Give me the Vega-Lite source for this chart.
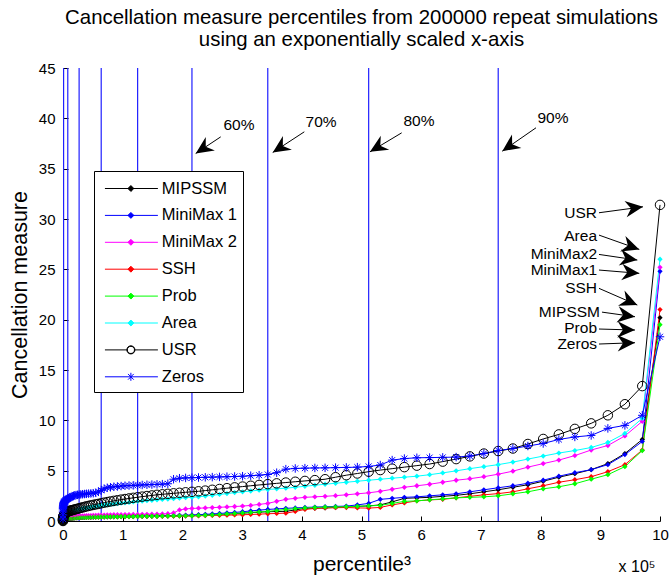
{
 "$schema": "https://vega.github.io/schema/vega-lite/v6.json",
 "width": 597, "height": 453,
 "autosize": {"type": "none"},
 "padding": {"left": 63, "top": 68, "right": 9, "bottom": 55},
 "background": "white",
 "config": {
  "view": {"stroke": null},
  "font": "Liberation Sans",
  "axis": {"domainColor": "black", "tickColor": "black", "labelColor": "black", "titleColor": "black", "labelFont": "Liberation Sans", "titleFont": "Liberation Sans", "titleFontWeight": "normal", "labelFontSize": 15, "grid": false, "tickSize": -5, "domainWidth": 1, "tickWidth": 1}
 },
 "title": {"text": ["Cancellation measure percentiles from 200000 repeat simulations", "using an exponentially scaled x-axis"], "fontSize": 20.4, "fontWeight": "normal", "font": "Liberation Sans", "color": "black", "anchor": "middle", "lineHeight": 22, "offset": 11},
 "datasets": {
  "curves": [
   {"x":0,"MIPSSM":0,"MiniMax 1":0,"MiniMax 2":0,"SSH":0,"Prob":0,"Area":0,"USR":0,"Zeros":0.2},
   {"x":1,"MIPSSM":0.02,"MiniMax 1":0.02,"MiniMax 2":0.02,"SSH":0.02,"Prob":0.02,"Area":0.04,"USR":0.05,"Zeros":0.6},
   {"x":8,"MIPSSM":0.04,"MiniMax 1":0.04,"MiniMax 2":0.04,"SSH":0.04,"Prob":0.04,"Area":0.08,"USR":0.1,"Zeros":0.9},
   {"x":27,"MIPSSM":0.06,"MiniMax 1":0.06,"MiniMax 2":0.06,"SSH":0.06,"Prob":0.06,"Area":0.12,"USR":0.15,"Zeros":1.1},
   {"x":64,"MIPSSM":0.08,"MiniMax 1":0.08,"MiniMax 2":0.08,"SSH":0.08,"Prob":0.08,"Area":0.16,"USR":0.2,"Zeros":1.25},
   {"x":125,"MIPSSM":0.1,"MiniMax 1":0.1,"MiniMax 2":0.1,"SSH":0.1,"Prob":0.1,"Area":0.2,"USR":0.25,"Zeros":1.35},
   {"x":216,"MIPSSM":0.11,"MiniMax 1":0.11,"MiniMax 2":0.12,"SSH":0.11,"Prob":0.11,"Area":0.24,"USR":0.3,"Zeros":1.45},
   {"x":343,"MIPSSM":0.12,"MiniMax 1":0.12,"MiniMax 2":0.14,"SSH":0.12,"Prob":0.12,"Area":0.28,"USR":0.35,"Zeros":1.55},
   {"x":512,"MIPSSM":0.13,"MiniMax 1":0.13,"MiniMax 2":0.16,"SSH":0.13,"Prob":0.13,"Area":0.32,"USR":0.4,"Zeros":1.62},
   {"x":729,"MIPSSM":0.14,"MiniMax 1":0.14,"MiniMax 2":0.18,"SSH":0.14,"Prob":0.14,"Area":0.36,"USR":0.45,"Zeros":1.7},
   {"x":1000,"MIPSSM":0.15,"MiniMax 1":0.15,"MiniMax 2":0.2,"SSH":0.15,"Prob":0.15,"Area":0.4,"USR":0.5,"Zeros":1.76},
   {"x":1331,"MIPSSM":0.16,"MiniMax 1":0.16,"MiniMax 2":0.21,"SSH":0.16,"Prob":0.16,"Area":0.44,"USR":0.55,"Zeros":1.82},
   {"x":1728,"MIPSSM":0.17,"MiniMax 1":0.17,"MiniMax 2":0.22,"SSH":0.17,"Prob":0.17,"Area":0.48,"USR":0.6,"Zeros":1.87},
   {"x":2197,"MIPSSM":0.18,"MiniMax 1":0.18,"MiniMax 2":0.24,"SSH":0.18,"Prob":0.18,"Area":0.52,"USR":0.65,"Zeros":1.92},
   {"x":2744,"MIPSSM":0.19,"MiniMax 1":0.19,"MiniMax 2":0.25,"SSH":0.19,"Prob":0.19,"Area":0.56,"USR":0.7,"Zeros":1.96},
   {"x":3375,"MIPSSM":0.2,"MiniMax 1":0.2,"MiniMax 2":0.27,"SSH":0.2,"Prob":0.2,"Area":0.6,"USR":0.74,"Zeros":2.0},
   {"x":4096,"MIPSSM":0.21,"MiniMax 1":0.21,"MiniMax 2":0.28,"SSH":0.21,"Prob":0.21,"Area":0.64,"USR":0.78,"Zeros":2.04},
   {"x":4913,"MIPSSM":0.22,"MiniMax 1":0.22,"MiniMax 2":0.3,"SSH":0.22,"Prob":0.22,"Area":0.68,"USR":0.82,"Zeros":2.08},
   {"x":5832,"MIPSSM":0.23,"MiniMax 1":0.23,"MiniMax 2":0.31,"SSH":0.23,"Prob":0.23,"Area":0.72,"USR":0.86,"Zeros":2.12},
   {"x":6859,"MIPSSM":0.24,"MiniMax 1":0.24,"MiniMax 2":0.33,"SSH":0.24,"Prob":0.24,"Area":0.76,"USR":0.9,"Zeros":2.16},
   {"x":8000,"MIPSSM":0.25,"MiniMax 1":0.25,"MiniMax 2":0.34,"SSH":0.25,"Prob":0.25,"Area":0.8,"USR":0.93,"Zeros":2.2},
   {"x":9261,"MIPSSM":0.26,"MiniMax 1":0.26,"MiniMax 2":0.36,"SSH":0.26,"Prob":0.26,"Area":0.83,"USR":0.96,"Zeros":2.25},
   {"x":10648,"MIPSSM":0.27,"MiniMax 1":0.27,"MiniMax 2":0.37,"SSH":0.27,"Prob":0.27,"Area":0.86,"USR":0.99,"Zeros":2.3},
   {"x":12167,"MIPSSM":0.28,"MiniMax 1":0.28,"MiniMax 2":0.39,"SSH":0.28,"Prob":0.28,"Area":0.89,"USR":1.02,"Zeros":2.35},
   {"x":13824,"MIPSSM":0.29,"MiniMax 1":0.29,"MiniMax 2":0.4,"SSH":0.29,"Prob":0.29,"Area":0.92,"USR":1.05,"Zeros":2.4},
   {"x":15625,"MIPSSM":0.3,"MiniMax 1":0.3,"MiniMax 2":0.41,"SSH":0.3,"Prob":0.3,"Area":0.95,"USR":1.08,"Zeros":2.45},
   {"x":17576,"MIPSSM":0.31,"MiniMax 1":0.31,"MiniMax 2":0.43,"SSH":0.31,"Prob":0.31,"Area":0.98,"USR":1.11,"Zeros":2.5},
   {"x":19683,"MIPSSM":0.32,"MiniMax 1":0.32,"MiniMax 2":0.44,"SSH":0.32,"Prob":0.31,"Area":1.01,"USR":1.14,"Zeros":2.55},
   {"x":21952,"MIPSSM":0.33,"MiniMax 1":0.33,"MiniMax 2":0.45,"SSH":0.32,"Prob":0.32,"Area":1.05,"USR":1.18,"Zeros":2.58},
   {"x":24389,"MIPSSM":0.34,"MiniMax 1":0.33,"MiniMax 2":0.46,"SSH":0.33,"Prob":0.33,"Area":1.09,"USR":1.22,"Zeros":2.6},
   {"x":27000,"MIPSSM":0.35,"MiniMax 1":0.34,"MiniMax 2":0.48,"SSH":0.34,"Prob":0.34,"Area":1.13,"USR":1.26,"Zeros":2.62},
   {"x":29791,"MIPSSM":0.36,"MiniMax 1":0.35,"MiniMax 2":0.49,"SSH":0.35,"Prob":0.35,"Area":1.17,"USR":1.3,"Zeros":2.64},
   {"x":32768,"MIPSSM":0.36,"MiniMax 1":0.36,"MiniMax 2":0.5,"SSH":0.35,"Prob":0.35,"Area":1.21,"USR":1.35,"Zeros":2.66},
   {"x":35937,"MIPSSM":0.37,"MiniMax 1":0.36,"MiniMax 2":0.51,"SSH":0.36,"Prob":0.36,"Area":1.25,"USR":1.4,"Zeros":2.68},
   {"x":39304,"MIPSSM":0.38,"MiniMax 1":0.37,"MiniMax 2":0.52,"SSH":0.37,"Prob":0.37,"Area":1.29,"USR":1.45,"Zeros":2.7},
   {"x":42875,"MIPSSM":0.38,"MiniMax 1":0.38,"MiniMax 2":0.53,"SSH":0.37,"Prob":0.37,"Area":1.33,"USR":1.5,"Zeros":2.72},
   {"x":46656,"MIPSSM":0.39,"MiniMax 1":0.38,"MiniMax 2":0.54,"SSH":0.38,"Prob":0.38,"Area":1.37,"USR":1.55,"Zeros":2.74},
   {"x":50653,"MIPSSM":0.4,"MiniMax 1":0.39,"MiniMax 2":0.55,"SSH":0.38,"Prob":0.38,"Area":1.41,"USR":1.6,"Zeros":2.76},
   {"x":54872,"MIPSSM":0.4,"MiniMax 1":0.4,"MiniMax 2":0.56,"SSH":0.39,"Prob":0.39,"Area":1.45,"USR":1.65,"Zeros":2.8},
   {"x":59319,"MIPSSM":0.41,"MiniMax 1":0.4,"MiniMax 2":0.57,"SSH":0.39,"Prob":0.39,"Area":1.49,"USR":1.7,"Zeros":2.9},
   {"x":64000,"MIPSSM":0.42,"MiniMax 1":0.41,"MiniMax 2":0.58,"SSH":0.4,"Prob":0.4,"Area":1.53,"USR":1.76,"Zeros":3.05},
   {"x":68921,"MIPSSM":0.42,"MiniMax 1":0.42,"MiniMax 2":0.59,"SSH":0.4,"Prob":0.4,"Area":1.57,"USR":1.82,"Zeros":3.2},
   {"x":74088,"MIPSSM":0.43,"MiniMax 1":0.42,"MiniMax 2":0.6,"SSH":0.41,"Prob":0.41,"Area":1.61,"USR":1.88,"Zeros":3.3},
   {"x":79507,"MIPSSM":0.43,"MiniMax 1":0.43,"MiniMax 2":0.61,"SSH":0.41,"Prob":0.41,"Area":1.65,"USR":1.94,"Zeros":3.35},
   {"x":85184,"MIPSSM":0.44,"MiniMax 1":0.43,"MiniMax 2":0.62,"SSH":0.42,"Prob":0.42,"Area":1.69,"USR":2.0,"Zeros":3.4},
   {"x":91125,"MIPSSM":0.44,"MiniMax 1":0.44,"MiniMax 2":0.63,"SSH":0.42,"Prob":0.42,"Area":1.73,"USR":2.06,"Zeros":3.43},
   {"x":97336,"MIPSSM":0.45,"MiniMax 1":0.44,"MiniMax 2":0.63,"SSH":0.43,"Prob":0.43,"Area":1.77,"USR":2.12,"Zeros":3.47},
   {"x":103823,"MIPSSM":0.45,"MiniMax 1":0.45,"MiniMax 2":0.64,"SSH":0.43,"Prob":0.43,"Area":1.81,"USR":2.18,"Zeros":3.5},
   {"x":110592,"MIPSSM":0.46,"MiniMax 1":0.46,"MiniMax 2":0.64,"SSH":0.44,"Prob":0.44,"Area":1.85,"USR":2.24,"Zeros":3.52},
   {"x":117649,"MIPSSM":0.46,"MiniMax 1":0.46,"MiniMax 2":0.65,"SSH":0.44,"Prob":0.44,"Area":1.89,"USR":2.3,"Zeros":3.54},
   {"x":125000,"MIPSSM":0.47,"MiniMax 1":0.47,"MiniMax 2":0.65,"SSH":0.45,"Prob":0.45,"Area":1.95,"USR":2.36,"Zeros":3.56},
   {"x":132651,"MIPSSM":0.48,"MiniMax 1":0.48,"MiniMax 2":0.66,"SSH":0.45,"Prob":0.46,"Area":1.98,"USR":2.42,"Zeros":3.58},
   {"x":140608,"MIPSSM":0.48,"MiniMax 1":0.49,"MiniMax 2":0.66,"SSH":0.46,"Prob":0.46,"Area":2.02,"USR":2.48,"Zeros":3.6},
   {"x":148877,"MIPSSM":0.49,"MiniMax 1":0.5,"MiniMax 2":0.67,"SSH":0.46,"Prob":0.47,"Area":2.06,"USR":2.54,"Zeros":3.62},
   {"x":157464,"MIPSSM":0.49,"MiniMax 1":0.5,"MiniMax 2":0.68,"SSH":0.47,"Prob":0.47,"Area":2.1,"USR":2.6,"Zeros":3.64},
   {"x":166375,"MIPSSM":0.5,"MiniMax 1":0.51,"MiniMax 2":0.7,"SSH":0.47,"Prob":0.48,"Area":2.14,"USR":2.65,"Zeros":3.66},
   {"x":175616,"MIPSSM":0.51,"MiniMax 1":0.52,"MiniMax 2":0.72,"SSH":0.48,"Prob":0.49,"Area":2.18,"USR":2.7,"Zeros":3.7},
   {"x":185193,"MIPSSM":0.52,"MiniMax 1":0.54,"MiniMax 2":0.8,"SSH":0.48,"Prob":0.5,"Area":2.22,"USR":2.75,"Zeros":4.15},
   {"x":195112,"MIPSSM":0.53,"MiniMax 1":0.56,"MiniMax 2":1.1,"SSH":0.49,"Prob":0.5,"Area":2.27,"USR":2.8,"Zeros":4.25},
   {"x":205379,"MIPSSM":0.54,"MiniMax 1":0.58,"MiniMax 2":1.2,"SSH":0.49,"Prob":0.51,"Area":2.32,"USR":2.85,"Zeros":4.28},
   {"x":216000,"MIPSSM":0.55,"MiniMax 1":0.6,"MiniMax 2":1.25,"SSH":0.5,"Prob":0.52,"Area":2.36,"USR":2.9,"Zeros":4.3},
   {"x":226981,"MIPSSM":0.57,"MiniMax 1":0.63,"MiniMax 2":1.27,"SSH":0.52,"Prob":0.55,"Area":2.4,"USR":2.95,"Zeros":4.32},
   {"x":238328,"MIPSSM":0.59,"MiniMax 1":0.66,"MiniMax 2":1.3,"SSH":0.54,"Prob":0.57,"Area":2.48,"USR":3.02,"Zeros":4.34},
   {"x":250047,"MIPSSM":0.62,"MiniMax 1":0.7,"MiniMax 2":1.33,"SSH":0.55,"Prob":0.6,"Area":2.56,"USR":3.1,"Zeros":4.36},
   {"x":262144,"MIPSSM":0.65,"MiniMax 1":0.75,"MiniMax 2":1.36,"SSH":0.57,"Prob":0.65,"Area":2.64,"USR":3.18,"Zeros":4.38},
   {"x":274625,"MIPSSM":0.68,"MiniMax 1":0.8,"MiniMax 2":1.4,"SSH":0.58,"Prob":0.7,"Area":2.72,"USR":3.26,"Zeros":4.4},
   {"x":287496,"MIPSSM":0.73,"MiniMax 1":0.85,"MiniMax 2":1.44,"SSH":0.6,"Prob":0.75,"Area":2.82,"USR":3.34,"Zeros":4.42},
   {"x":300763,"MIPSSM":0.78,"MiniMax 1":0.92,"MiniMax 2":1.48,"SSH":0.62,"Prob":0.8,"Area":2.9,"USR":3.42,"Zeros":4.45},
   {"x":314432,"MIPSSM":0.83,"MiniMax 1":1.0,"MiniMax 2":1.55,"SSH":0.65,"Prob":0.85,"Area":2.98,"USR":3.5,"Zeros":4.5},
   {"x":328509,"MIPSSM":0.88,"MiniMax 1":1.08,"MiniMax 2":1.65,"SSH":0.68,"Prob":0.9,"Area":3.06,"USR":3.58,"Zeros":4.55},
   {"x":343000,"MIPSSM":0.92,"MiniMax 1":1.15,"MiniMax 2":1.75,"SSH":0.72,"Prob":0.95,"Area":3.13,"USR":3.66,"Zeros":4.62},
   {"x":357911,"MIPSSM":0.94,"MiniMax 1":1.2,"MiniMax 2":1.95,"SSH":0.75,"Prob":1.05,"Area":3.2,"USR":3.74,"Zeros":4.8},
   {"x":373248,"MIPSSM":0.96,"MiniMax 1":1.26,"MiniMax 2":2.15,"SSH":0.78,"Prob":1.15,"Area":3.26,"USR":3.82,"Zeros":5.15},
   {"x":389017,"MIPSSM":1.1,"MiniMax 1":1.3,"MiniMax 2":2.25,"SSH":0.95,"Prob":1.22,"Area":3.35,"USR":3.9,"Zeros":5.22},
   {"x":405224,"MIPSSM":1.26,"MiniMax 1":1.35,"MiniMax 2":2.35,"SSH":1.15,"Prob":1.3,"Area":3.45,"USR":3.98,"Zeros":5.25},
   {"x":421875,"MIPSSM":1.28,"MiniMax 1":1.38,"MiniMax 2":2.4,"SSH":1.25,"Prob":1.34,"Area":3.55,"USR":4.06,"Zeros":5.27},
   {"x":438976,"MIPSSM":1.3,"MiniMax 1":1.42,"MiniMax 2":2.45,"SSH":1.3,"Prob":1.38,"Area":3.65,"USR":4.15,"Zeros":5.28},
   {"x":456533,"MIPSSM":1.35,"MiniMax 1":1.45,"MiniMax 2":2.52,"SSH":1.32,"Prob":1.4,"Area":3.75,"USR":4.35,"Zeros":5.3},
   {"x":474552,"MIPSSM":1.4,"MiniMax 1":1.48,"MiniMax 2":2.6,"SSH":1.34,"Prob":1.42,"Area":3.85,"USR":4.55,"Zeros":5.32},
   {"x":493039,"MIPSSM":1.45,"MiniMax 1":1.6,"MiniMax 2":2.7,"SSH":1.3,"Prob":1.46,"Area":3.95,"USR":4.72,"Zeros":5.35},
   {"x":512000,"MIPSSM":1.5,"MiniMax 1":1.75,"MiniMax 2":2.8,"SSH":1.28,"Prob":1.5,"Area":4.05,"USR":4.9,"Zeros":5.42},
   {"x":531441,"MIPSSM":1.6,"MiniMax 1":2.15,"MiniMax 2":2.95,"SSH":1.35,"Prob":1.55,"Area":4.15,"USR":5.06,"Zeros":5.56},
   {"x":551368,"MIPSSM":1.9,"MiniMax 1":2.25,"MiniMax 2":3.15,"SSH":1.6,"Prob":1.75,"Area":4.25,"USR":5.2,"Zeros":6.05},
   {"x":571787,"MIPSSM":2.25,"MiniMax 1":2.35,"MiniMax 2":3.35,"SSH":1.8,"Prob":1.95,"Area":4.35,"USR":5.35,"Zeros":6.2},
   {"x":592704,"MIPSSM":2.3,"MiniMax 1":2.4,"MiniMax 2":3.5,"SSH":2.0,"Prob":2.0,"Area":4.45,"USR":5.5,"Zeros":6.28},
   {"x":614125,"MIPSSM":2.35,"MiniMax 1":2.5,"MiniMax 2":3.65,"SSH":2.1,"Prob":2.1,"Area":4.6,"USR":5.66,"Zeros":6.3},
   {"x":636056,"MIPSSM":2.45,"MiniMax 1":2.6,"MiniMax 2":3.85,"SSH":2.15,"Prob":2.2,"Area":4.78,"USR":5.9,"Zeros":6.32},
   {"x":658503,"MIPSSM":2.55,"MiniMax 1":2.7,"MiniMax 2":4.05,"SSH":2.3,"Prob":2.3,"Area":4.98,"USR":6.15,"Zeros":6.35},
   {"x":681472,"MIPSSM":2.7,"MiniMax 1":2.9,"MiniMax 2":4.2,"SSH":2.45,"Prob":2.35,"Area":5.2,"USR":6.42,"Zeros":6.45},
   {"x":704969,"MIPSSM":2.9,"MiniMax 1":3.1,"MiniMax 2":4.4,"SSH":2.6,"Prob":2.4,"Area":5.4,"USR":6.7,"Zeros":6.7},
   {"x":729000,"MIPSSM":3.1,"MiniMax 1":3.3,"MiniMax 2":4.65,"SSH":2.72,"Prob":2.5,"Area":5.6,"USR":6.95,"Zeros":7.0},
   {"x":753571,"MIPSSM":3.35,"MiniMax 1":3.5,"MiniMax 2":4.95,"SSH":2.9,"Prob":2.7,"Area":5.85,"USR":7.2,"Zeros":7.2},
   {"x":778688,"MIPSSM":3.6,"MiniMax 1":3.75,"MiniMax 2":5.35,"SSH":3.2,"Prob":2.9,"Area":6.15,"USR":7.65,"Zeros":7.45},
   {"x":804357,"MIPSSM":3.95,"MiniMax 1":4.05,"MiniMax 2":5.7,"SSH":3.5,"Prob":3.2,"Area":6.45,"USR":8.15,"Zeros":7.7},
   {"x":830584,"MIPSSM":4.35,"MiniMax 1":4.45,"MiniMax 2":6.05,"SSH":3.85,"Prob":3.4,"Area":6.75,"USR":8.6,"Zeros":8.1},
   {"x":857375,"MIPSSM":4.7,"MiniMax 1":4.8,"MiniMax 2":6.5,"SSH":4.1,"Prob":3.7,"Area":7.0,"USR":9.15,"Zeros":8.35},
   {"x":884736,"MIPSSM":5.1,"MiniMax 1":5.1,"MiniMax 2":7.05,"SSH":4.4,"Prob":4.15,"Area":7.3,"USR":9.7,"Zeros":8.5},
   {"x":912673,"MIPSSM":5.7,"MiniMax 1":5.6,"MiniMax 2":7.5,"SSH":4.9,"Prob":4.6,"Area":7.8,"USR":10.5,"Zeros":9.2},
   {"x":941192,"MIPSSM":6.7,"MiniMax 1":6.6,"MiniMax 2":8.45,"SSH":5.6,"Prob":5.4,"Area":8.7,"USR":11.6,"Zeros":9.5},
   {"x":970299,"MIPSSM":8.1,"MiniMax 1":7.9,"MiniMax 2":9.9,"SSH":7.05,"Prob":7.0,"Area":10.2,"USR":13.4,"Zeros":10.5},
   {"x":1000000,"MIPSSM":20.2,"MiniMax 1":24.8,"MiniMax 2":25.2,"SSH":21.0,"Prob":19.5,"Area":26.0,"USR":31.4,"Zeros":18.3}
  ],
  "vlines": [{"x":1000,"y":0,"y2":45},{"x":8000,"y":0,"y2":45},{"x":27000,"y":0,"y2":45},{"x":64000,"y":0,"y2":45},{"x":125000,"y":0,"y2":45},{"x":216000,"y":0,"y2":45},{"x":343000,"y":0,"y2":45},{"x":512000,"y":0,"y2":45},{"x":729000,"y":0,"y2":45}],
  "arrows": [
   {"x":264200,"y":38.16,"x2":222300,"y2":36.51},
   {"x":404200,"y":38.66,"x2":351300,"y2":36.61},
   {"x":567300,"y":38.56,"x2":514200,"y2":36.67},
   {"x":792300,"y":39.06,"x2":735800,"y2":36.74},
   {"x":897800,"y":30.62,"x2":971500,"y2":31.21},
   {"x":897800,"y":28.4,"x2":965300,"y2":26.98},
   {"x":897800,"y":26.48,"x2":962000,"y2":25.92},
   {"x":897800,"y":24.93,"x2":965300,"y2":24.6},
   {"x":897800,"y":23.11,"x2":962000,"y2":21.45},
   {"x":902800,"y":20.75,"x2":958100,"y2":20.29},
   {"x":897800,"y":19.07,"x2":958100,"y2":18.97},
   {"x":897800,"y":17.58,"x2":958100,"y2":17.71}
  ],
  "heads": [
   {"x":222300,"y":36.51,"angle":236.4},
   {"x":351300,"y":36.61,"angle":236.9},
   {"x":514200,"y":36.67,"angle":239},
   {"x":735800,"y":36.74,"angle":235.3},
   {"x":971500,"y":31.21,"angle":82.4},
   {"x":965300,"y":26.98,"angle":109.1},
   {"x":962000,"y":25.92,"angle":98.7},
   {"x":965300,"y":24.6,"angle":94.6},
   {"x":962000,"y":21.45,"angle":113.4},
   {"x":958100,"y":20.29,"angle":97.9},
   {"x":958100,"y":18.97,"angle":91.5},
   {"x":958100,"y":17.71,"angle":88}
  ],
  "pctlabels": [
   {"x":294800,"y":39.32,"text":"60%"},
   {"x":432200,"y":39.62,"text":"70%"},
   {"x":596300,"y":39.72,"text":"80%"},
   {"x":820800,"y":40.02,"text":"90%"}
  ],
  "serieslabels": [
   {"x":894500,"y":30.59,"text":"USR"},
   {"x":894500,"y":28.3,"text":"Area"},
   {"x":894500,"y":26.48,"text":"MiniMax2"},
   {"x":894500,"y":24.93,"text":"MiniMax1"},
   {"x":894500,"y":23.11,"text":"SSH"},
   {"x":899500,"y":20.75,"text":"MIPSSM"},
   {"x":894500,"y":19.14,"text":"Prob"},
   {"x":894500,"y":17.58,"text":"Zeros"}
  ],
  "exponent": [{"x":961500,"y":-4.6,"text":"x 10⁵"}]
 },
 "encoding": {
  "x": {"field": "x", "type": "quantitative", "scale": {"domain": [0, 1000000], "nice": false, "zero": false},
    "axis": {"title": "percentile³", "values": [0,100000,200000,300000,400000,500000,600000,700000,800000,900000,1000000], "labelExpr": "datum.value / 100000", "labelPadding": 11, "titleFontSize": 21, "titlePadding": 11, "labelFlush": false, "labelOverlap": false}},
  "y": {"field": "y", "type": "quantitative", "scale": {"domain": [0, 45], "nice": false},
    "axis": {"title": "Cancellation measure", "values": [0,5,10,15,20,25,30,35,40,45], "labelPadding": 13, "titleFontSize": 21.5, "titlePadding": 7}}
 },
 "layer": [
  {
   "data": {"name": "vlines"},
   "mark": {"type": "rule", "color": "#2020ff", "strokeWidth": 1.2},
   "encoding": {"y2": {"field": "y2"}}
  },
  {
   "data": {"name": "curves"},
   "transform": [{"fold": ["MIPSSM", "MiniMax 1", "MiniMax 2", "SSH", "Prob", "Area", "USR", "Zeros"], "as": ["series", "y"]}],
   "mark": {"type": "line", "strokeWidth": 1},
   "encoding": {
    "color": {"field": "series", "type": "nominal",
      "scale": {"domain": ["MIPSSM", "MiniMax 1", "MiniMax 2", "SSH", "Prob", "Area", "USR", "Zeros"], "range": ["#000000", "#0000ff", "#ff00ff", "#ff0000", "#00ff00", "#00ffff", "#000000", "#0000ff"]},
      "legend": {"orient": "none", "legendX": 31, "legendY": 103, "title": null, "padding": 6, "strokeColor": "black", "fillColor": "white", "labelFontSize": 16.5, "labelColor": "black", "labelFont": "Liberation Sans", "symbolSize": 449, "symbolStrokeWidth": 1, "rowPadding": 6.9, "labelOffset": 38.8,
        "encode": {"symbols": {"update": {
          "shape": {"signal": "datum.value === 'USR' ? 'M-0.62,0L1.45,0M2.21,0L4.38,0M2.21,0A0.38,0.38 0 1,1 1.45,0A0.38,0.38 0 1,1 2.21,0ZM2.17,0A0.34,0.34 0 1,0 1.49,0A0.34,0.34 0 1,0 2.17,0Z' : datum.value === 'Zeros' ? 'M-0.62,0L4.38,0M1.83,-0.38L1.83,0.38M1.56,-0.27L2.1,0.27M1.56,0.27L2.1,-0.27' : 'M-0.62,0L4.38,0M1.83,-0.28L2.11,0L1.83,0.28L1.55,0Z'"},
          "fill": {"signal": "datum.value === 'USR' ? 'white' : datum.value === 'Zeros' ? 'transparent' : scale('color', datum.value)"},
          "stroke": {"signal": "scale('color', datum.value)"},
          "opacity": {"value": 1}
        }}}}
    }
   }
  },
  {
   "data": {"name": "curves"},
   "transform": [{"fold": ["MIPSSM", "MiniMax 1", "MiniMax 2", "SSH", "Prob", "Area", "USR", "Zeros"], "as": ["series", "y"]}, {"filter": {"field": "series", "oneOf": ["MIPSSM", "MiniMax 1", "MiniMax 2", "SSH", "Prob", "Area"]}}],
   "mark": {"type": "point", "filled": true, "shape": "diamond", "size": 28, "opacity": 1},
   "encoding": {
    "color": {"field": "series", "type": "nominal", "legend": null}
   }
  },
  {
   "data": {"name": "curves"},
   "transform": [{"fold": ["USR"], "as": ["series", "y"]}],
   "mark": {"type": "point", "filled": false, "shape": "circle", "size": 90, "strokeWidth": 1, "opacity": 1, "color": "black"}
  },
  {
   "data": {"name": "curves"},
   "transform": [{"fold": ["Zeros"], "as": ["series", "y"]}],
   "mark": {"type": "point", "filled": false, "shape": "M-1,0L1,0M0,-1L0,1M-0.7,-0.7L0.7,0.7M-0.7,0.7L0.7,-0.7", "size": 72, "strokeWidth": 1, "opacity": 1, "color": "#0000ff"}
  },
  {
   "data": {"name": "arrows"},
   "mark": {"type": "rule", "color": "black", "strokeWidth": 1},
   "encoding": {
    "x2": {"field": "x2"},
    "y2": {"field": "y2"}
   }
  },
  {
   "data": {"name": "heads"},
   "mark": {"type": "point", "shape": "M0,0L0.75,1.6L0,1.1L-0.75,1.6Z", "filled": true, "color": "black", "size": 480, "opacity": 1},
   "encoding": {
    "angle": {"field": "angle", "type": "quantitative", "scale": null}
   }
  },
  {
   "data": {"name": "pctlabels"},
   "mark": {"type": "text", "fontSize": 15.5, "font": "Liberation Sans", "align": "center", "baseline": "middle", "color": "black"},
   "encoding": {"text": {"field": "text"}}
  },
  {
   "data": {"name": "serieslabels"},
   "mark": {"type": "text", "fontSize": 15.5, "font": "Liberation Sans", "align": "right", "baseline": "middle", "color": "black"},
   "encoding": {"text": {"field": "text"}}
  },
  {
   "data": {"name": "exponent"},
   "mark": {"type": "text", "fontSize": 16, "font": "Liberation Sans", "align": "center", "baseline": "middle", "color": "black"},
   "encoding": {"text": {"field": "text"}}
  }
 ]
}
